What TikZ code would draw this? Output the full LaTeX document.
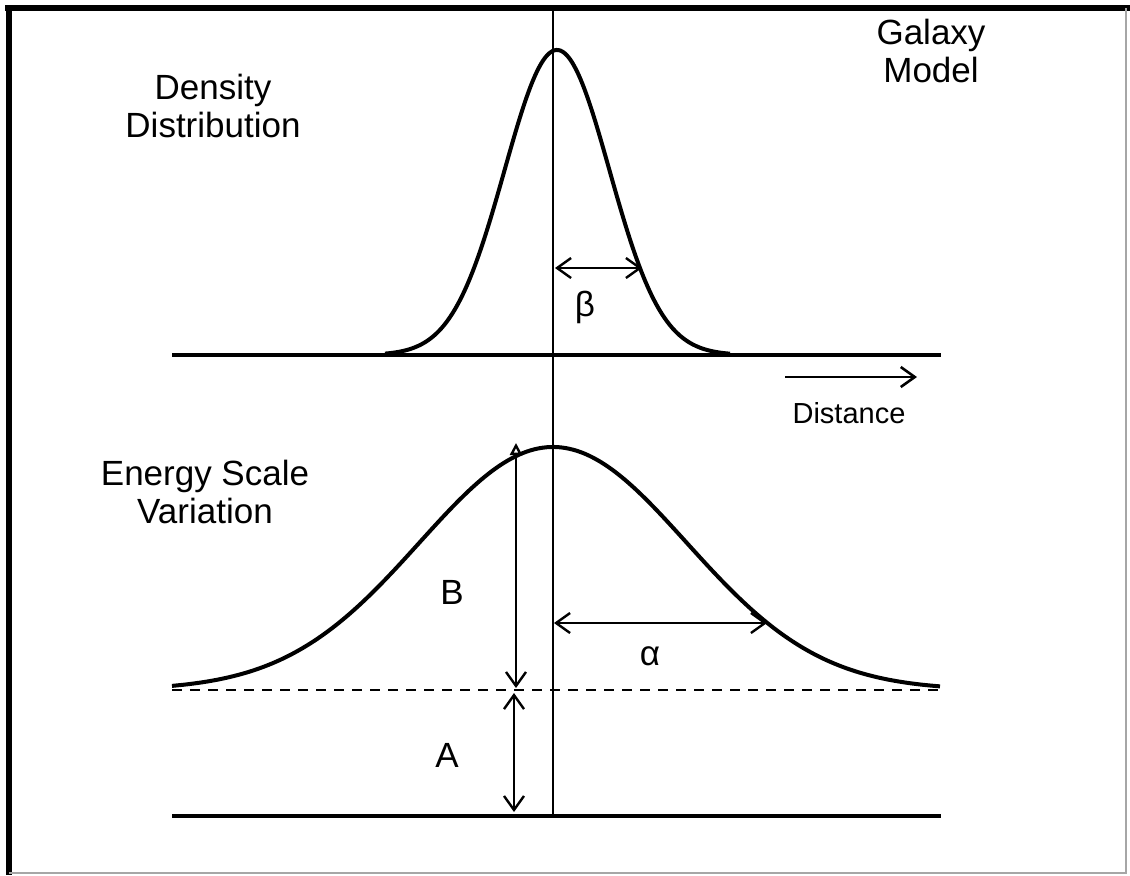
\documentclass[tikz,border=0pt]{standalone}
\usepackage{fontspec}
\setmainfont{Liberation Sans}
\usetikzlibrary{arrows.meta}
\begin{document}
\begin{tikzpicture}[x=0.5pt,y=-0.5pt,
  lbl/.style={font=\fontsize{17.5}{19}\selectfont, align=center, inner sep=0pt},
  small/.style={font=\fontsize{14.5}{16}\selectfont, inner sep=0pt},
  greek/.style={font=\fontsize{17.5}{19}\selectfont, inner sep=0pt},
  dimline/.style={line width=1.2pt, {Straight Barb[length=7pt,width=10pt]}-{Straight Barb[length=7pt,width=10pt]}},
  oneway/.style={line width=1.3pt, -{Straight Barb[length=7pt,width=10pt]}},
  curvel/.style={line width=2pt, line join=round},
  baseline/.style={line width=2pt},
  axisline/.style={line width=1pt},
  frameline/.style={line width=3pt},
  thinframe/.style={line width=0.8pt, black!35}]
\useasboundingbox (0,0) rectangle (1130,875);
% frame
\draw[frameline] (5,8) -- (1130,8);
\draw[frameline] (8.5,5) -- (8.5,875);
\draw[thinframe] (1126,8) -- (1126,873) -- (8.5,873);

% coordinates
\coordinate (axTop) at (553,8);
\coordinate (axBot) at (553,816);
\coordinate (b1L) at (172,355);
\coordinate (b1R) at (941,355);
\coordinate (b2L) at (172,816);
\coordinate (b2R) at (941,816);
\coordinate (dL) at (172,690);
\coordinate (dR) at (941,690);
\coordinate (betaL) at (555,268);
\coordinate (betaR) at (642,268);
\coordinate (alphaL) at (554,623);
\coordinate (alphaR) at (767,623);
\coordinate (BTop) at (516,443);
\coordinate (BBot) at (516,688);
\coordinate (ATop) at (514,693);
\coordinate (ABot) at (514,812);
\coordinate (distL) at (785,377);
\coordinate (distR) at (917,377);

% axes
\draw[axisline] (axTop) -- (axBot);
\draw[baseline] (b1L) -- (b1R);
\draw[baseline] (b2L) -- (b2R);
\draw[line width=0.9pt, dash pattern=on 5pt off 4pt] (dL) -- (dR);

% curves
\draw[curvel] plot[domain=385:730, samples=160] (\x, {355-305*exp(-((\x-557)/100)^2/0.549)});
\draw[curvel] plot[domain=172:940, samples=200] (\x, {690-243*exp(-((\x-553)/100)^2/3.567)});

% dimension arrows
\draw[dimline] (betaL) -- (betaR);
\draw[dimline] (alphaL) -- (alphaR);
\draw[line width=1.2pt, {Triangle[open,length=6pt,width=6pt]}-{Straight Barb[length=7pt,width=10pt]}] (BTop) -- (BBot);
\draw[dimline] (ATop) -- (ABot);
\draw[oneway] (distL) -- (distR);

% labels
\node[lbl] (dens) at (213,106) {Density\\Distribution};
\node[lbl] (gal) at (931,51) {Galaxy\\Model};
\node[lbl] (energy) at (205,492) {Energy Scale\\Variation};
\node[small] (dist) at (849,413) {Distance};
\node[greek] (beta) at (585,307) {β};
\node[greek] (alpha) at (650,656) {α};
\node[lbl] (B) at (452,592) {B};
\node[lbl] (A) at (447,755) {A};
\end{tikzpicture}
\end{document}
